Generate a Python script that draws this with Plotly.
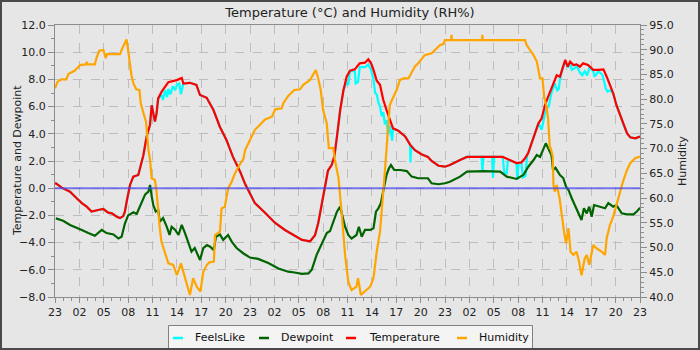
import pandas as pd
import plotly.graph_objects as go

# Hours after the first 23:00 reading, and readings for each series
start = pd.Timestamp("2024-03-10 23:00")

temp_hours = [0, 0.12, 0.82, 1.85, 2.67, 3.3, 3.9, 4.5, 5.3, 5.95, 6.55, 7.0, 7.6, 8.0, 8.4, 8.6,
              8.82, 9.23, 9.64, 10.25, 10.67, 10.87, 11.28, 11.69, 11.9, 12.1, 12.3, 12.5, 12.7,
              13.13, 13.54, 13.95, 14.98, 15.6, 15.8, 16.6, 17.4, 17.85, 18.67, 19.5, 20.3, 21.1,
              21.9, 22.8, 23.4, 24.0, 24.6, 25.85, 27.1, 28.3, 29.5, 30.4, 31.4, 32.0, 32.4, 32.8,
              33.2, 33.6, 34.05, 34.4, 34.7, 35.1, 35.5, 35.9, 36.3, 36.9, 37.5, 38.15, 38.56,
              38.9, 39.2, 39.6, 40.0, 40.4, 40.8, 41.2, 41.6, 42.25, 43.1, 43.7, 44.3, 45.1, 45.9,
              46.35, 47.2, 48.0, 48.6, 49.85, 50.7, 55.1, 56.0, 56.8, 57.4, 57.85, 58.25, 58.7,
              59.1, 59.5, 59.9, 60.3, 60.7, 61.1, 61.5, 61.75, 62.15, 62.5, 62.8, 63.1, 63.4,
              63.8, 64.2, 64.6, 65.0, 65.6, 66.25, 66.9, 67.5, 67.9, 68.3, 68.7, 69.1, 69.5,
              69.9, 70.4, 70.8, 71.4, 72.0]
temp_values = [0.3, 0.36, 0.04, -0.26, -0.74, -1.1, -1.36, -1.72, -1.6, -1.53, -1.8, -1.85, -2.1,
               -2.2, -2.05, -1.73, -1.0, 0.24, 0.85, 0.97, 1.95, 2.4, 3.8, 4.65, 6.1, 5.4, 4.9,
               5.5, 6.6, 7.1, 7.5, 7.8, 7.95, 8.1, 7.7, 7.75, 7.6, 6.85, 6.65, 5.75, 4.5, 3.55,
               2.3, 1.2, 0.3, -0.38, -1.1, -1.8, -2.56, -3.07, -3.5, -3.8, -3.9, -3.45, -2.56,
               -1.2, 0.0, 1.3, 1.7, 2.4, 3.8, 5.75, 7.2, 8.2, 8.64, 8.74, 9.18, 9.23, 9.48, 9.18,
               8.7, 7.9, 7.6, 6.5, 5.75, 5.0, 4.4, 4.23, 3.8, 3.2, 2.8, 2.5, 2.3, 2.0, 1.65,
               1.58, 1.7, 2.07, 2.3, 2.3, 2.07, 1.85, 1.9, 2.2, 2.6, 3.42, 4.04, 4.77, 5.14, 6.1,
               6.73, 7.35, 7.96, 8.3, 8.2, 8.93, 9.43, 8.93, 9.3, 9.06, 9.1, 8.93, 9.18, 9.06,
               8.7, 8.7, 8.74, 8.2, 7.6, 6.98, 6.1, 5.5, 4.77, 4.04, 3.74, 3.67, 3.8]

feels_hours = [0, 0.12, 0.82, 1.85, 2.67, 3.3, 3.9, 4.5, 5.3, 5.95, 6.55, 7.0, 7.6, 8.0, 8.4, 8.6,
               8.82, 9.23, 9.64, 10.25, 10.67, 10.87, 11.28, 11.69, 11.9, 12.1, 12.3, 12.5, 12.7,
               13.13, 13.3, 13.54, 13.8, 13.95, 14.2, 14.5, 14.8, 15.0, 15.3, 15.5, 15.8, 16.6,
               17.4, 17.85, 18.67, 19.5, 20.3, 21.1, 21.9, 22.8, 23.4, 24.0, 24.6, 25.85, 27.1,
               28.3, 29.5, 30.4, 31.4, 32.0, 32.4, 32.8, 33.2, 33.6, 34.05, 34.4, 34.7, 35.1,
               35.5, 35.9, 36.1, 36.3, 36.9, 37.0, 37.3, 37.5, 38.15, 38.56, 38.9, 39.2, 39.4,
               39.6, 39.8, 40.0, 40.2, 40.4, 40.6, 40.8, 41.0, 41.2, 41.5, 41.6, 42.25, 43.1,
               43.7, 43.75, 43.85, 44.3, 45.1, 45.9, 46.35, 47.2, 48.0, 48.6, 49.85, 50.7, 52.5,
               52.6, 52.75, 53.8, 53.9, 54.05, 55.1, 55.3, 55.6, 55.75, 56.8, 56.9, 57.05, 57.4,
               57.6, 57.9, 58.1, 58.25, 58.7, 59.1, 59.5, 59.9, 60.1, 60.3, 60.5, 60.8, 61.1,
               61.5, 61.8, 62.0, 62.15, 62.5, 62.8, 63.1, 63.4, 63.6, 63.9, 64.2, 64.6, 64.9,
               65.2, 65.5, 65.8, 66.25, 66.4, 66.7, 66.9, 67.4, 67.6, 67.8, 68.0, 68.3, 68.7,
               69.1, 69.5, 69.9, 70.4, 70.8, 71.4, 72.0]
feels_values = [0.3, 0.36, 0.04, -0.26, -0.74, -1.1, -1.36, -1.72, -1.6, -1.53, -1.8, -1.85, -2.1,
                -2.2, -2.05, -1.73, -1.0, 0.24, 0.85, 0.97, 1.95, 2.4, 3.8, 4.65, 6.1, 5.4, 4.9,
                5.5, 6.6, 6.8, 6.5, 7.2, 6.7, 7.3, 6.9, 7.5, 7.2, 7.6, 7.7, 6.9, 7.7, 7.75, 7.6,
                6.85, 6.65, 5.75, 4.5, 3.55, 2.3, 1.2, 0.3, -0.38, -1.1, -1.8, -2.56, -3.07,
                -3.5, -3.8, -3.9, -3.45, -2.56, -1.2, 0.0, 1.3, 1.7, 2.4, 3.8, 5.75, 7.2, 7.8,
                7.6, 8.6, 8.6, 7.7, 7.8, 8.9, 8.9, 9.1, 8.7, 8.0, 7.0, 6.9, 6.3, 6.0, 5.3, 5.6,
                4.7, 5.0, 3.9, 4.6, 3.5, 4.4, 4.23, 3.8, 3.2, 1.9, 3.1, 2.8, 2.5, 2.3, 2.0, 1.65,
                1.58, 1.7, 2.07, 2.3, 2.3, 1.2, 2.3, 2.3, 0.75, 2.3, 2.3, 1.1, 1.1, 2.1, 1.85,
                0.6, 1.85, 1.9, 0.8, 0.9, 2.4, 2.6, 3.42, 4.04, 4.77, 4.3, 5.0, 5.5, 5.8, 6.1,
                7.0, 7.7, 7.2, 7.3, 8.0, 8.9, 9.3, 8.9, 9.2, 8.7, 8.8, 9.0, 8.5, 8.3, 8.6, 8.3,
                8.9, 8.6, 8.2, 8.5, 8.6, 8.3, 7.8, 7.3, 7.1, 7.2, 6.98, 6.1, 5.5, 4.77, 4.04,
                3.74, 3.67, 3.8]

dew_hours = [0.1, 1.0, 1.85, 2.7, 3.3, 4.1, 4.9, 5.75, 6.35, 7.2, 7.8, 8.2, 8.6, 9.0, 9.65, 10.05,
             10.5, 11.1, 11.5, 11.7, 11.9, 12.1, 12.4, 12.7, 12.9, 13.3, 13.75, 14.1, 14.35, 14.8,
             15.2, 15.6, 16.0, 16.4, 16.8, 17.2, 17.85, 18.25, 18.7, 19.1, 19.55, 19.8, 20.3,
             20.7, 21.3, 21.75, 22.35, 23.2, 24.0, 25.0, 26.25, 27.5, 28.7, 29.5, 30.4, 31.2,
             31.6, 32.2, 32.8, 33.45, 33.85, 34.25, 34.7, 35.1, 35.4, 35.7, 36.1, 36.5, 37.1,
             37.4, 37.75, 38.15, 38.8, 39.2, 39.5, 39.8, 40.1, 40.4, 40.8, 41.1, 41.35, 41.75,
             42.5, 43.3, 43.9, 44.7, 45.9, 46.35, 47.2, 48.0, 48.6, 49.85, 50.7, 52.7, 54.8,
             55.6, 56.8, 57.65, 58.25, 58.9, 59.3, 59.7, 60.1, 60.4, 60.7, 61.1, 61.3, 61.6,
             62.15, 62.55, 62.9, 63.2, 63.6, 64.0, 64.4, 64.8, 65.1, 65.45, 65.75, 66.05, 66.35,
             67.1, 67.7, 68.1, 68.7, 69.1, 69.75, 70.35, 71.2, 71.6, 72.0]
dew_values = [-2.22, -2.39, -2.7, -2.9, -3.07, -3.3, -3.5, -3.07, -3.3, -3.4, -3.7, -3.57, -2.6,
              -2.0, -1.77, -1.9, -1.24, -0.45, -0.25, 0.24, -0.6, -1.24, -1.72, -1.6, -2.46,
              -2.2, -2.83, -3.44, -2.83, -3.07, -3.44, -2.7, -3.3, -4.05, -4.67, -4.4, -5.28,
              -4.4, -4.18, -4.3, -4.55, -3.57, -3.4, -3.8, -3.44, -3.93, -4.4, -4.8, -5.1, -5.2,
              -5.5, -5.9, -6.14, -6.2, -6.3, -6.26, -6.0, -4.9, -4.18, -3.3, -3.15, -2.46, -1.73,
              -1.36, -2.1, -2.83, -3.44, -3.7, -3.44, -2.83, -3.57, -3.07, -3.07, -2.95, -1.73,
              -1.48, -1.1, -0.13, 0.97, 1.46, 1.7, 1.34, 1.34, 1.26, 0.85, 0.73, 0.73, 0.36, 0.29,
              0.36, 0.48, 0.85, 1.22, 1.26, 1.22, 0.85, 0.68, 0.97, 1.58, 2.07, 2.44, 2.3, 2.93,
              3.3, 2.93, 2.44, 1.34, 1.5, 0.97, 0.75, 0.11, -0.13, -0.74, -1.24, -1.85, -2.34,
              -1.48, -1.85, -1.36, -2.1, -1.24, -1.36, -1.48, -1.1, -1.36, -1.24, -1.85, -1.92,
              -1.92, -1.72, -1.43]

hum_hours = [0.0, 0.3, 0.8, 1.4, 1.65, 2.45, 3.1, 3.85, 3.9, 3.95, 4.9, 5.1, 5.45, 5.95, 6.1,
             6.25, 6.4, 8.0, 8.2, 8.6, 8.8, 9.0, 9.23, 9.4, 9.65, 10.0, 10.4, 10.55, 10.9, 11.2,
             11.5, 11.7, 11.9, 12.3, 12.5, 12.7, 12.9, 13.1, 13.5, 13.95, 14.55, 15.0, 15.5,
             15.8, 16.2, 16.6, 17.0, 17.45, 17.9, 18.25, 18.7, 19.0, 19.55, 19.7, 20.3, 20.5,
             20.9, 21.3, 21.75, 22.15, 22.7, 23.2, 23.4, 24.0, 24.6, 25.2, 25.85, 26.7, 27.1,
             27.9, 28.1, 28.7, 29.45, 30.15, 30.55, 31.4, 31.8, 32.1, 32.4, 32.7, 33.0, 33.45,
             33.7, 34.25, 34.45, 34.9, 35.3, 35.7, 36.1, 36.5, 37.1, 37.3, 37.65, 38.15, 38.8,
             39.2, 39.6, 40.0, 40.3, 40.5, 40.75, 41.0, 41.2, 41.65, 42.05, 42.45, 42.9, 43.5,
             43.9, 44.3, 44.7, 45.5, 46.35, 46.8, 47.4, 47.8, 48.0, 48.75, 48.8, 48.85, 52.55,
             52.6, 52.65, 57.85, 58.05, 58.45, 58.9, 59.3, 59.5, 59.7, 60.0, 60.2, 60.5, 60.7,
             60.9, 61.0, 61.25, 61.35, 61.5, 61.75, 62.1, 62.35, 62.65, 62.9, 63.2, 63.45, 63.8,
             64.2, 64.5, 64.8, 65.2, 65.45, 65.75, 66.25, 66.65, 67.3, 67.7, 67.9, 68.3, 68.7,
             69.1, 69.5, 69.9, 70.4, 70.8, 71.4, 72.0]
hum_values = [82.2, 83.5, 84.0, 84.0, 85.1, 85.8, 86.9, 87.05, 87.6, 87.05, 87.05, 88.3, 89.8,
              89.95, 89.1, 88.3, 89.1, 89.1, 89.95, 91.3, 92.1, 89.95, 87.25, 84.9, 83.2, 82.0,
              81.85, 79.2, 77.1, 75.45, 69.7, 67.7, 64.0, 63.65, 61.3, 56.9, 53.9, 51.2, 49.15,
              46.8, 46.5, 44.4, 46.8, 45.1, 43.1, 40.4, 43.8, 42.1, 41.1, 45.1, 46.5, 47.0,
              47.15, 52.5, 53.2, 57.9, 58.25, 61.95, 63.3, 65.0, 66.7, 68.0, 69.7, 71.75, 73.8,
              74.8, 75.9, 76.45, 77.95, 78.15, 79.2, 80.65, 81.85, 82.0, 82.9, 83.9, 84.9, 85.9,
              84.2, 81.85, 77.8, 75.1, 70.1, 70.1, 67.7, 64.0, 56.6, 48.5, 43.1, 41.4, 42.1,
              43.8, 40.4, 41.1, 42.1, 43.8, 49.2, 53.2, 58.6, 63.3, 68.7, 75.1, 78.8, 80.5,
              81.85, 83.9, 84.2, 84.2, 85.55, 86.6, 87.25, 88.9, 89.3, 89.95, 90.95, 91.15,
              91.95, 91.95, 93.0, 91.95, 91.95, 93.0, 91.95, 91.95, 90.95, 89.95, 88.9, 87.6,
              85.9, 84.2, 84.2, 80.5, 78.5, 75.8, 70.1, 70.1, 68.5, 62.65, 61.3, 62.65, 60.0,
              56.6, 53.2, 50.85, 53.9, 49.15, 48.5, 49.15, 47.15, 44.4, 47.8, 48.5, 46.5, 50.5,
              49.85, 49.15, 48.5, 51.9, 54.55, 56.25, 58.6, 61.0, 63.3, 65.7, 67.05, 68.05, 68.4]

series_names = ["FeelsLike", "Dewpoint", "Temperature", "Humidity"]
series_colors = ["#00ffff", "#006400", "#ff0000", "#ffa500"]


def stamps(hours):
    return start + pd.to_timedelta(hours, unit="h")


FONT = "DejaVu Sans"
GRID = "#bdbdbd"
AXIS = "#8c8c8c"
BG = "#e6e6e6"
W, H = 700, 350
ML, MR, MT, MB = 55, 60, 25, 53
PW, PH = W - ML - MR, H - MT - MB


def px(x):
    """Horizontal pixel -> paper fraction."""
    return (x - ML) / PW


def py(y):
    """Vertical pixel (from top) -> paper fraction."""
    return (H - MB - y) / PH


fig = go.Figure()
series = [(feels_hours, feels_values, "y"), (dew_hours, dew_values, "y"),
          (temp_hours, temp_values, "y"), (hum_hours, hum_values, "y2")]
for (hrs, vals, ax), name, color in zip(series, series_names, series_colors):
    fig.add_trace(go.Scatter(x=stamps(hrs), y=vals, name=name, yaxis=ax, mode="lines",
                             line=dict(color=color, width=2.2), showlegend=False))

end = start + pd.Timedelta(hours=72)

shapes = [
    # zero reference on the temperature axis
    dict(type="line", xref="paper", x0=0, x1=1, yref="y", y0=0, y1=0,
         line=dict(color="rgba(70,70,240,0.7)", width=2), layer="above"),
    # legend box
    dict(type="rect", xref="paper", yref="paper", x0=px(168.5), x1=px(532.5),
         y0=py(352), y1=py(325.5), line=dict(color="#808080", width=1),
         fillcolor="#f4f4f4", layer="above"),
    # dark frame around the whole chart
    dict(type="rect", xref="paper", yref="paper",
         x0=px(0), x1=px(W), y0=py(H), y1=py(0),
         line=dict(color="#4a4a4a", width=4), fillcolor="rgba(0,0,0,0)", layer="above"),
]
annotations = [
    dict(text="Temperature and Dewpoint", xref="paper", yref="paper", x=px(17), y=0.5,
         xanchor="center", yanchor="middle", textangle=-90, showarrow=False,
         font=dict(size=11)),
    dict(text="Humidity", xref="paper", yref="paper", x=px(682), y=0.5,
         xanchor="center", yanchor="middle", textangle=-90, showarrow=False,
         font=dict(size=11)),
]

# legend entries: short line key followed by the series name
key_x = [173, 259, 346, 457]
text_x = [193, 279, 367, 477]
for name, color, kx, tx in zip(series_names, series_colors, key_x, text_x):
    shapes.append(dict(type="line", xref="paper", yref="paper", x0=px(kx), x1=px(kx + 10),
                       y0=py(338), y1=py(338), line=dict(color=color, width=2.5),
                       layer="above"))
    annotations.append(dict(text=name, xref="paper", yref="paper", x=px(tx), y=py(337),
                            xanchor="left", yanchor="middle", showarrow=False,
                            font=dict(size=11, color="#111111")))

fig.update_layout(
    width=W, height=H,
    margin=dict(l=ML, r=MR, t=MT, b=MB, autoexpand=False),
    paper_bgcolor=BG, plot_bgcolor=BG,
    font=dict(family=FONT, size=11, color="#222222"),
    title=dict(text="Temperature (°C) and Humidity (RH%)", x=0.5, xanchor="center",
               y=1 - 12 / H, yanchor="middle", font=dict(size=13, color="#222222")),
    showlegend=False,
    xaxis=dict(
        range=[start, end], type="date", tick0=start, dtick=3 * 3600 * 1000,
        tickformat="%H", ticks="outside", ticklen=5, tickcolor=AXIS,
        showline=True, linecolor=AXIS, mirror=True, automargin=False,
        showgrid=True, gridcolor=GRID, griddash="dash", gridwidth=1,
        zeroline=False, tickfont=dict(size=11),
        minor=dict(dtick=3600 * 1000, ticks="outside", ticklen=3, tickcolor=AXIS,
                   showgrid=False),
    ),
    yaxis=dict(
        range=[-8, 12], dtick=2, tickformat=".1f", ticks="outside", ticklen=6,
        tickcolor=AXIS, showline=True, linecolor=AXIS, mirror=True, automargin=False,
        showgrid=True, gridcolor=GRID, griddash="dash", gridwidth=1, zeroline=False,
        tickfont=dict(size=11),
        minor=dict(dtick=1, ticks="outside", ticklen=3, tickcolor=AXIS, showgrid=False),
    ),
    yaxis2=dict(
        range=[40, 95], dtick=5, tickformat=".1f", overlaying="y", side="right",
        ticks="outside", ticklen=6, tickcolor=AXIS, showline=True, linecolor=AXIS,
        showgrid=False, zeroline=False, automargin=False, tickfont=dict(size=11),
        minor=dict(dtick=1, ticks="outside", ticklen=3, tickcolor=AXIS),
    ),
    shapes=shapes,
    annotations=annotations,
)

fig.write_html("out.html")
